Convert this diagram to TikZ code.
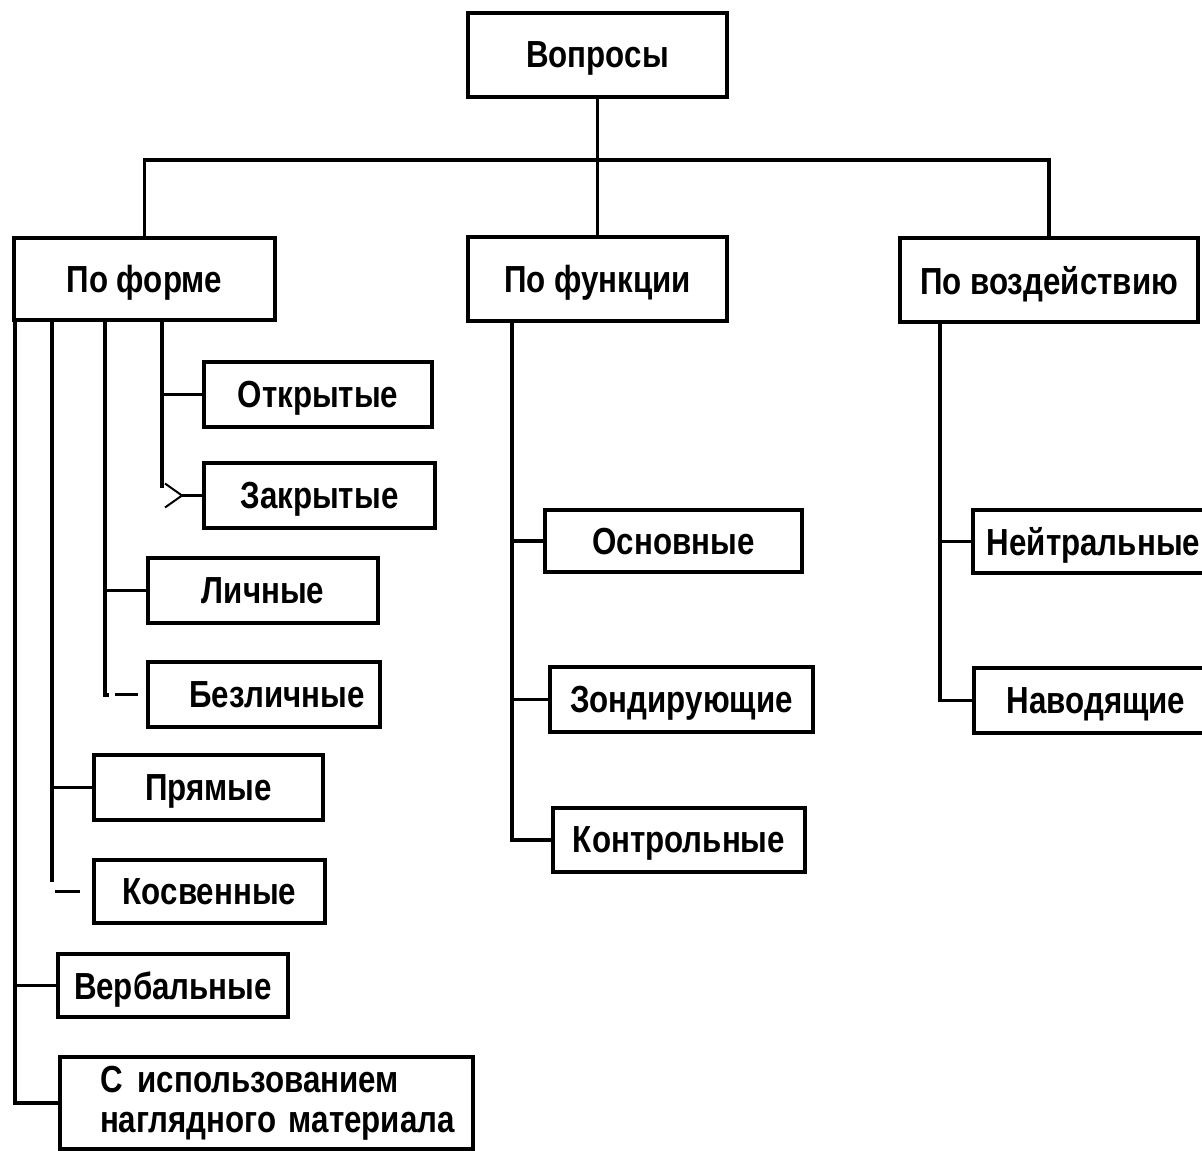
\documentclass[tikz,border=0pt]{standalone}
\usepackage{fontspec}
\setmainfont{Liberation Sans}[FakeStretch=0.83]
\begin{document}
\begin{tikzpicture}[x=1pt,y=-1pt,
  box/.style 2 args={draw, line width=3.5pt, outer sep=0pt, inner sep=0pt,
    minimum width=#1, minimum height=#2, text depth=0pt,
    font=\fontsize{37.7}{40}\selectfont\bfseries},
  link/.style={line width=3.5pt, line join=miter},
  fine/.style={line width=2pt}]
\clip (0,0) rectangle (1202,1151);
\fill[white] (0,0) rectangle (1202,1151);

% top level
\node[box={259}{84}] (q) at (597.5,55) {Вопросы};
\node[box={261}{82}] (forma) at (144.5,279) {По форме};
\node[box={259}{84}] (fun) at (597.5,279) {По функции};
\node[box={298}{84}] (vozd) at (1049,280) {По воздействию};

% by form
\node[box={228}{65}] (otk) at (318,394.5) {Открытые};
\node[box={231}{65}] (zak) at (319.5,495.5) {Закрытые};
\node[box={230}{65}] (lich) at (263,590.5) {Личные};
\node[box={232}{65}] (bez) at (264,694.5) {\hspace*{26pt}Безличные};
\node[box={229}{65}] (pr) at (208.5,787.5) {Прямые};
\node[box={231}{63}] (kos) at (209.5,891.5) {Косвенные};
\node[box={230}{63}] (verb) at (173,985.5) {Вербальные};
\node[box={413}{92}, text depth={}, text width=333pt, align=left] (vis) at (266.5,1103)
  {\mbox{С\hspace{0.4em}использованием}\\\mbox{наглядного материала}};

% by function
\node[box={257}{62}] (osn) at (673.5,541) {Основные};
\node[box={263}{65}] (zond) at (681.5,699.5) {Зондирующие};
\node[box={252}{64}] (kon) at (679,840) {Контрольные};

% by influence
\node[box={257}{63}] (neit) at (1101.5,541.5) {Нейтральные\hspace*{16pt}};
\node[box={256}{65}] (nav) at (1102,700.5) {Наводящие\hspace*{12pt}};

% upper connectors
\coordinate (bus) at (598,160);
\draw[link] (q.south) -- (fun.north);
\draw[link] (forma.north) |- (bus) -| (vozd.north);

% form branches
\coordinate (f1) at ([xshift=1pt]forma.south west);
\coordinate (f2) at ([xshift=38pt]forma.south west);
\coordinate (f3) at ([xshift=91pt]forma.south west);
\coordinate (f4) at ([xshift=148pt]forma.south west);

\draw[link] (f1) |- (vis.west);
\draw[link] (verb.west) -- (verb.west -| f1);

\draw[link] (f2) -- ++(0,562);
\draw[link] (pr.west) -- (pr.west -| f2);
\draw[link] ([xshift=-14pt]kos.west) -- ([xshift=-39pt]kos.west);

\draw[link] (f3) -- ++(0,375) -- ++(4,0);
\draw[link] (lich.west) -- (lich.west -| f3);
\draw[link] ([xshift=-10pt]bez.west) -- ([xshift=-33pt]bez.west);

\draw[link] (f4) -- ++(0,168);
\draw[link] (otk.west) -- (otk.west -| f4);
\draw[link] (zak.west) -- ++(-22,0) coordinate (zk);
\draw[fine] ([shift={(-17,-12)}]zk) -- (zk) -- ([shift={(-17,12)}]zk);

% function branches
\coordinate (g) at ([xshift=44pt]fun.south west);
\draw[link] (g) |- (kon.west);
\draw[link] (osn.west) -- (osn.west -| g);
\draw[link] (zond.west) -- (zond.west -| g);

% influence branches
\coordinate (h) at ([xshift=40pt]vozd.south west);
\draw[link] (h) |- (nav.west);
\draw[link] (neit.west) -- (neit.west -| h);
\end{tikzpicture}
\end{document}
